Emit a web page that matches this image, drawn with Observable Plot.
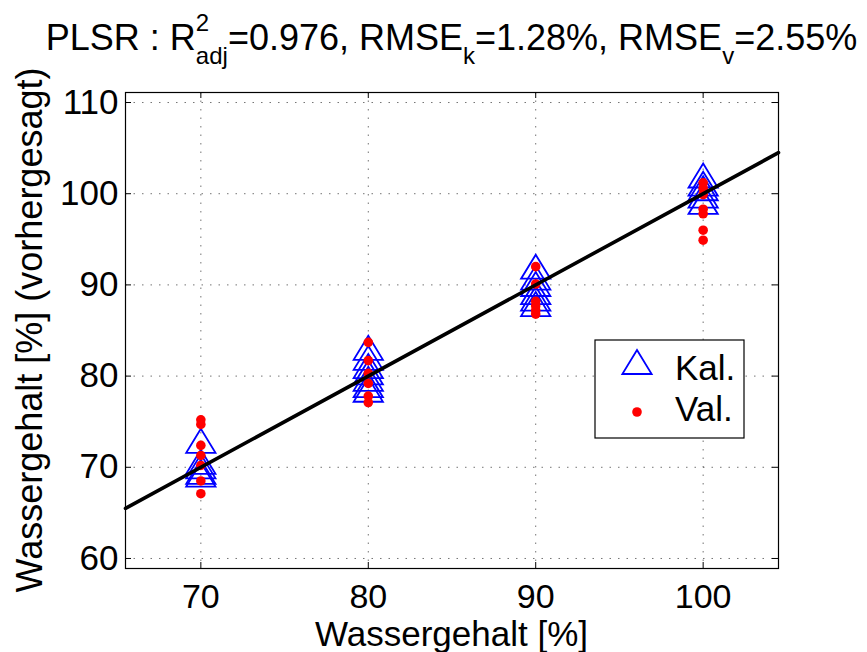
<!DOCTYPE html>
<html>
<head>
<meta charset="utf-8">
<script src="https://cdn.jsdelivr.net/npm/d3@7"></script>
<script src="https://cdn.jsdelivr.net/npm/@observablehq/plot@0.6"></script>
<style>
  html, body { margin: 0; padding: 0; background: #fff; }
  #chart { width: 867px; height: 652px; }
</style>
</head>
<body>
<div id="chart"></div>
<script>
// ---------- data ----------
const categories = [70, 80, 90, 100];           // actual water content [%]
// calibration (Kal.) predictions per category
const kal70  = [72.9, 70.6, 70.1, 69.5, 69.2];
const kal80  = [83.1, 82.0, 81.1, 80.4, 79.7, 79.0, 78.5];
const kal90  = [92.0, 90.8, 90.1, 89.2, 88.5, 87.9];
const kal100 = [102.0, 101.1, 100.6, 99.8, 99.1];
// validation (Val.) predictions per category
const val70  = [75.2, 74.7, 72.4, 71.3, 70.2, 68.5, 67.1];
const val80  = [83.7, 81.7, 80.3, 79.2, 77.8, 77.1];
const val90  = [92.0, 90.1, 88.2, 87.7, 87.2, 86.8];
const val100 = [101.2, 100.6, 99.9, 98.3, 97.8, 96.0, 94.9];
// axes
const xTicks = [70, 80, 90, 100];
const yTicks = [60, 70, 80, 90, 100, 110];
const xDomain = [65.5, 104.5];
const yDomain = [58.9, 111.1];
// labels
const xLabel = "Wassergehalt [%]";
const yLabel = "Wassergehalt [%] (vorhergesagt)";
const legendLabels = ["Kal.", "Val."];

// ---------- build tables ----------
const kalSeries = [kal70, kal80, kal90, kal100];
const valSeries = [val70, val80, val90, val100];
const kal = kalSeries.flatMap((arr, i) => arr.map(v => ({x: categories[i], y: v})));
const val = valSeries.flatMap((arr, i) => arr.map(v => ({x: categories[i], y: v})));
const fitLine = xDomain.map(v => ({x: v, y: v}));   // 1:1 line

const FONT = "'Liberation Sans', Arial, Helvetica, sans-serif";
const W = 867, H = 652;
const mL = 125, mR = 89, mT = 92, mB = 84;

const triangle = {
  draw(ctx, size) {
    const r = Math.sqrt(size / Math.PI);
    const h = r, w = r * 1.22;
    ctx.moveTo(0, -h);
    ctx.lineTo(w, h);
    ctx.lineTo(-w, h);
    ctx.closePath();
  }
};

const tickLenY = (yDomain[1] - yDomain[0]) * 6 / (H - mT - mB);
const tickLenX = (xDomain[1] - xDomain[0]) * 6 / (W - mL - mR);

const chart = Plot.plot({
  width: W, height: H,
  marginLeft: mL, marginRight: mR, marginTop: mT, marginBottom: mB,
  style: {fontFamily: FONT, background: "#fff", color: "#000", overflow: "visible"},
  x: {domain: xDomain, ticks: xTicks},
  y: {domain: yDomain, ticks: yTicks},
  marks: [
    Plot.gridX(xTicks, {stroke: "#000", strokeOpacity: 0.55, strokeDasharray: "1.5,7"}),
    Plot.gridY(yTicks, {stroke: "#000", strokeOpacity: 0.55, strokeDasharray: "1.5,7"}),
    // inward ticks, all four sides
    Plot.ruleX(xTicks, {x: d => d, y1: yDomain[0], y2: yDomain[0] + tickLenY, stroke: "#000"}),
    Plot.ruleX(xTicks, {x: d => d, y1: yDomain[1], y2: yDomain[1] - tickLenY, stroke: "#000"}),
    Plot.ruleY(yTicks, {y: d => d, x1: xDomain[0], x2: xDomain[0] + tickLenX, stroke: "#000"}),
    Plot.ruleY(yTicks, {y: d => d, x1: xDomain[1], x2: xDomain[1] - tickLenX, stroke: "#000"}),
    Plot.axisX(xTicks, {anchor: "bottom", tickSize: 0, tickPadding: 15, fontSize: 34, label: null}),
    Plot.axisY(yTicks, {anchor: "left", tickSize: 0, tickPadding: 7, fontSize: 35, label: null}),
    Plot.dot(kal, {x: "x", y: "y", symbol: triangle, r: 12, stroke: "#0000ff", strokeWidth: 1.8, fill: "none"}),
    Plot.dot(val, {x: "x", y: "y", r: 4.8, fill: "#ff0000", stroke: "none"}),
    Plot.line(fitLine, {x: "x", y: "y", stroke: "#000", strokeWidth: 3.6}),
    Plot.frame({stroke: "#000", strokeWidth: 1.2})
  ]
});
document.getElementById("chart").appendChild(chart);

// ---------- title, axis labels, legend ----------
const svg = d3.select(chart);
const cx = mL + (W - mL - mR) / 2;

const t = svg.append("text")
  .attr("x", cx).attr("y", 50)
  .attr("text-anchor", "middle")
  .attr("font-family", FONT).attr("font-size", 36).attr("fill", "#000");
t.append("tspan").text("PLSR : R");
t.append("tspan").attr("dy", -19).attr("font-size", 24).text("2");
t.append("tspan").attr("dx", -13.3).attr("dy", 33).attr("font-size", 24).text("adj");
t.append("tspan").attr("dy", -14).text("=0.976, RMSE");
t.append("tspan").attr("dy", 14).attr("font-size", 24).text("k");
t.append("tspan").attr("dy", -14).text("=1.28%, RMSE");
t.append("tspan").attr("dy", 14).attr("font-size", 24).text("v");
t.append("tspan").attr("dy", -14).text("=2.55%");

svg.append("text")
  .attr("x", cx).attr("y", 646)
  .attr("text-anchor", "middle")
  .attr("font-family", FONT).attr("font-size", 35).attr("fill", "#000")
  .text(xLabel);

svg.append("text")
  .attr("transform", `translate(42, ${mT + (H - mT - mB) / 2}) rotate(-90)`)
  .attr("text-anchor", "middle")
  .attr("font-family", FONT).attr("font-size", 36).attr("fill", "#000")
  .text(yLabel);

// legend
const lg = svg.append("g").attr("text-anchor", "start");
lg.append("rect").attr("x", 595).attr("y", 340).attr("width", 149).attr("height", 98)
  .attr("fill", "#fff").attr("stroke", "#000").attr("stroke-width", 1.2);
lg.append("path")
  .attr("d", d3.symbol(triangle, Math.PI * 144)())
  .attr("transform", "translate(637,362)")
  .attr("fill", "none").attr("stroke", "#0000ff").attr("stroke-width", 1.8);
lg.append("circle").attr("cx", 637).attr("cy", 412).attr("r", 4.8).attr("fill", "#ff0000");
lg.append("text").attr("x", 675).attr("y", 380).attr("text-anchor", "start")
  .attr("font-family", FONT).attr("font-size", 35).attr("fill", "#000").text(legendLabels[0]);
lg.append("text").attr("x", 675).attr("y", 421).attr("text-anchor", "start")
  .attr("font-family", FONT).attr("font-size", 35).attr("fill", "#000").text(legendLabels[1]);
</script>
</body>
</html>
